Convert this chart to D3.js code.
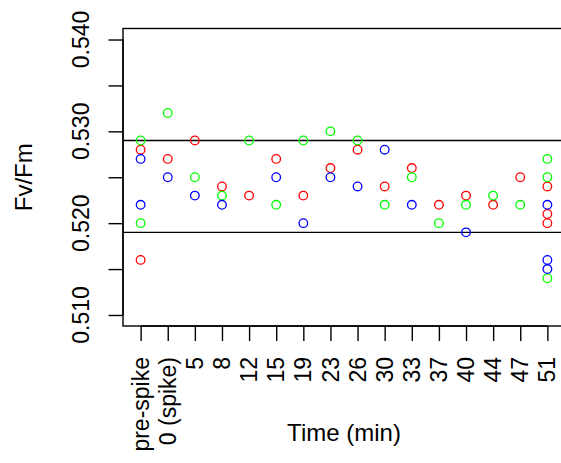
<!DOCTYPE html>
<html>
<head>
<meta charset="utf-8">
<script src="https://cdn.jsdelivr.net/npm/d3@7"></script>
<style>
  html, body { margin: 0; padding: 0; background: #fff; }
  svg { display: block; }
  text { font-family: "Liberation Sans", Arial, sans-serif; fill: #000; }
</style>
</head>
<body>
<svg id="chart" width="561" height="463"></svg>
<script>
// Sampling times (x categories)
const categories = ["pre-spike", "0 (spike)", "5", "8", "12", "15", "19", "23",
                    "26", "30", "33", "37", "40", "44", "47", "51"];

// Fv/Fm readings per time point, one list per sample
const redValues = [[0.528, 0.516], [0.527], [0.529], [0.524], [0.523], [0.527], [0.523], [0.526],
                   [0.528], [0.524], [0.526], [0.522], [0.523], [0.522], [0.525], [0.524, 0.521, 0.520]];
const greenValues = [[0.529, 0.520], [0.532], [0.525], [0.523], [0.529], [0.522], [0.529], [0.530],
                     [0.529], [0.522], [0.525], [0.520], [0.522], [0.523], [0.522], [0.527, 0.525, 0.514]];
const blueValues = [[0.527, 0.522], [0.525], [0.523], [0.522], [], [0.525], [0.520], [0.525],
                    [0.524], [0.528], [0.522], [], [0.519], [], [], [0.522, 0.516, 0.515]];

// Reference levels
const refLines = [0.529, 0.519];

// Y-axis ticks and labels
const yTicks = [0.510, 0.515, 0.520, 0.525, 0.530, 0.535, 0.540];
const yLabels = ["0.510", "0.520", "0.530", "0.540"];

const series = [
  { values: redValues, color: "#ff0000" },
  { values: greenValues, color: "#00ff00" },
  { values: blueValues, color: "#0000ff" }
];

const svg = d3.select("#chart");
const plot = { left: 123, right: 565, top: 28.5, bottom: 326 };
const fontSize = 23;

const x = d3.scalePoint()
  .domain(categories)
  .range([plot.left, plot.right])
  .padding(0.65);

const y = d3.scaleLinear()
  .domain([0.5088, 0.5412])
  .range([plot.bottom, plot.top]);

svg.append("rect").attr("width", 561).attr("height", 463).attr("fill", "#fff");

// Reference lines across the plot region
svg.append("g")
  .selectAll("line")
  .data(refLines)
  .join("line")
  .attr("x1", plot.left).attr("x2", plot.right)
  .attr("y1", d => y(d)).attr("y2", d => y(d))
  .attr("stroke", "#000").attr("stroke-width", 1.4);

// Points
const pts = [];
series.forEach(s => {
  s.values.forEach((vals, i) => {
    vals.forEach(v => pts.push({ cat: categories[i], v, color: s.color }));
  });
});
svg.append("g")
  .selectAll("circle")
  .data(pts)
  .join("circle")
  .attr("cx", d => x(d.cat))
  .attr("cy", d => y(d.v))
  .attr("r", 4.3)
  .attr("fill", "none")
  .attr("stroke", d => d.color)
  .attr("stroke-width", 1.3);

// Plot frame
svg.append("rect")
  .attr("x", plot.left).attr("y", plot.top)
  .attr("width", plot.right - plot.left).attr("height", plot.bottom - plot.top)
  .attr("fill", "none").attr("stroke", "#000").attr("stroke-width", 1.4);

// Y axis
const yAxis = d3.axisLeft(y)
  .tickValues(yTicks)
  .tickSize(14.5)
  .tickFormat("");
const gy = svg.append("g").attr("transform", `translate(${plot.left},0)`).call(yAxis);
gy.select(".domain").attr("stroke-width", 1.4)
  .attr("d", `M0,${y(yTicks[0])}V${y(yTicks[yTicks.length - 1])}`);
gy.selectAll(".tick line").attr("stroke-width", 1.4);

svg.append("g")
  .selectAll("text")
  .data(yLabels)
  .join("text")
  .attr("transform", d => `translate(89,${y(+d)}) rotate(-90)`)
  .attr("text-anchor", "middle")
  .attr("font-size", fontSize)
  .text(d => d);

// X axis
const xAxis = d3.axisBottom(x).tickSize(15).tickFormat("");
const gx = svg.append("g").attr("transform", `translate(0,${plot.bottom})`).call(xAxis);
gx.select(".domain").attr("stroke-width", 1.4)
  .attr("d", `M${x(categories[0])},0H${x(categories[categories.length - 1])}`);
gx.selectAll(".tick line").attr("stroke-width", 1.4);

svg.append("g")
  .selectAll("text")
  .data(categories)
  .join("text")
  .attr("transform", d => `translate(${x(d)},357) rotate(-90)`)
  .attr("dy", "0.35em")
  .attr("text-anchor", "end")
  .attr("font-size", fontSize)
  .text(d => d);

// Axis titles
svg.append("text")
  .attr("x", (plot.left + plot.right) / 2)
  .attr("y", 441)
  .attr("text-anchor", "middle")
  .attr("font-size", fontSize + 1)
  .text("Time (min)");

svg.append("text")
  .attr("transform", `translate(32,${(plot.top + plot.bottom) / 2}) rotate(-90)`)
  .attr("text-anchor", "middle")
  .attr("font-size", fontSize + 1)
  .text("Fv/Fm");
</script>
</body>
</html>
